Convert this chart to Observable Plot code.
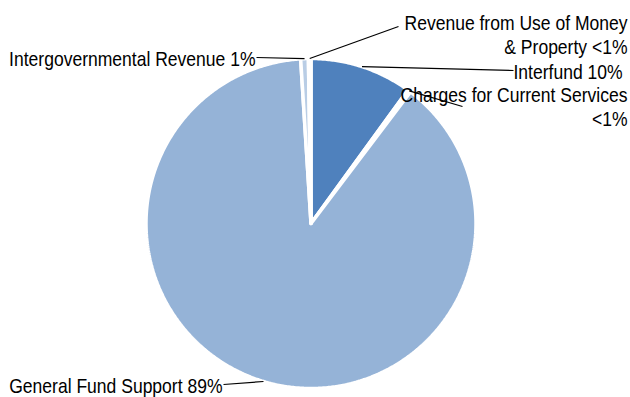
<!DOCTYPE html>
<html>
<head>
<meta charset="utf-8">
<script src="https://cdn.jsdelivr.net/npm/d3@7"></script>
<script src="https://cdn.jsdelivr.net/npm/@observablehq/plot@0.6"></script>
<style>
  html, body { margin: 0; padding: 0; background: #fff; }
  svg { display: block; }
</style>
</head>
<body>
<div id="chart"></div>
<script>
// ---- data (clockwise from 12 o'clock) ----
const categories = ["Interfund", "Charges for Current Services", "General Fund Support", "Intergovernmental Revenue", "Revenue from Use of Money & Property"];
const values = [10.0, 0.3, 88.7, 0.75, 0.25];
const labels = ["Interfund 10%", "Charges for Current Services\n<1%", "General Fund Support 89%", "Intergovernmental Revenue 1%", "Revenue from Use of Money\n& Property <1%"];
const colors = ["#4F81BD", "#4F81BD", "#95B3D7", "#B9CDE5", "#C6D9F1"];

// ---- layout (pixel frame -> unit circle) ----
const W = 630, H = 397, CX = 310.5, CY = 223, R = 165;
const ux = px => (px - CX) / R, uy = py => (CY - py) / R;
// label anchor points and text anchors (layout only)
const labelLayout = [
  {x: 513, y: 70, anchor: "start"},
  {x: 627, y: 105.5, anchor: "end"},
  {x: 222, y: 384, anchor: "end"},
  {x: 255, y: 57, anchor: "end"},
  {x: 627, y: 33.5, anchor: "end"}
];
const leaderEnds = [
  {x: 513, y: 70}, {x: 462, y: 106}, {x: 223, y: 384}, {x: 256, y: 57}, {x: 398, y: 26}
];

const arcs = d3.pie().sort(null).startAngle(0).endAngle(2 * Math.PI)(values);

// polygon vertices for each slice (angle measured clockwise from top)
const pts = [];
arcs.forEach((a, i) => {
  const n = Math.max(2, Math.ceil((a.endAngle - a.startAngle) / (Math.PI / 360)));
  pts.push({k: categories[i], x: 0, y: 0});
  for (let j = 0; j <= n; j++) {
    const t = a.startAngle + (a.endAngle - a.startAngle) * j / n;
    pts.push({k: categories[i], x: Math.sin(t), y: Math.cos(t)});
  }
  pts.push({k: categories[i], x: 0, y: 0});
});

const leaders = arcs.map((a, i) => {
  const m = (a.startAngle + a.endAngle) / 2;
  return {x1: Math.sin(m), y1: Math.cos(m), x2: ux(leaderEnds[i].x), y2: uy(leaderEnds[i].y)};
});
const texts = labels.map((t, i) => ({t, x: ux(labelLayout[i].x), y: uy(labelLayout[i].y), a: labelLayout[i].anchor}));

const font = "'Liberation Sans', Arial, sans-serif";

const chart = Plot.plot({
  width: W, height: H,
  margin: 0,
  x: {domain: [ux(0), ux(W)], range: [0, W], axis: null},
  y: {domain: [uy(H), uy(0)], range: [H, 0], axis: null},
  color: {domain: categories, range: colors},
  style: {fontFamily: font, background: "#fff"},
  marks: [
    Plot.line(pts, {x: "x", y: "y", z: "k", fill: "k", stroke: "white", strokeWidth: 3.5, strokeLinejoin: "miter", curve: "linear"}),
    Plot.link(leaders, {x1: "x1", y1: "y1", x2: "x2", y2: "y2", stroke: "#000", strokeWidth: 1.2}),
    ...["start", "end"].map(anc => Plot.text(texts.filter(d => d.a === anc), {
      x: "x", y: "y", text: "t", textAnchor: anc, lineAnchor: "middle",
      fontSize: 21, lineHeight: 1.19, fill: "#000", fontFamily: font, className: "lbl"
    }))
  ]
});
// emulate the narrow (Arial Narrow) face: condense horizontally around each anchor
chart.querySelectorAll("g.lbl text").forEach(t => {
  const tr = t.getAttribute("transform") || "";
  t.setAttribute("transform", tr + " scale(0.835,1)");
});
document.getElementById("chart").appendChild(chart);
</script>
</body>
</html>
